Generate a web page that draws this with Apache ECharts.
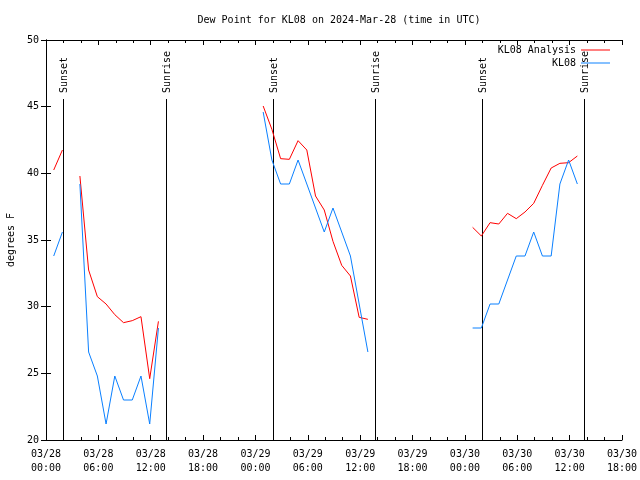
<!DOCTYPE html>
<html>
<head>
<meta charset="utf-8">
<script src="https://cdn.jsdelivr.net/npm/echarts@6/dist/echarts.min.js"></script>
<style>html,body{margin:0;padding:0;background:#fff}#c{width:640px;height:480px}</style>
</head>
<body>
<div id="c"></div>
<script>
// Hours since 2024-03-28 00:00 UTC (observations at HH:53)
const obsHours = [0,1,2,3,4,5,6,7,8,9,10,11,12,13,14,15,16,17,18,19,20,
  21,22,23,24,25,26,27,28,29,30,31,32,33,34,35,36,37,38,39,40,
  41,42,43,44,45,46,47,48,49,50,51,52,53,54,55,56,57,58,59,60];
const obsMinute = 53;

const analysis = [40.25, 41.75, null,
  39.8, 32.75, 30.75, 30.2, 29.4, 28.8, 28.95, 29.25, 24.6, 28.9,
  null, null, null, null, null, null, null, null, null, null, null,
  45.05, 43.3, 41.1, 41.05, 42.45, 41.75, 38.3, 37.25, 34.9, 33.1, 32.3, 29.2, 29.05,
  null, null, null, null, null, null, null, null, null, null, null,
  35.95, 35.3, 36.3, 36.2, 37.0, 36.6, 37.1, 37.75, 39.1, 40.4, 40.75, 40.8, 41.3];

const station = [33.8, 35.6, null,
  39.2, 26.6, 24.8, 21.2, 24.8, 23.0, 23.0, 24.8, 21.2, 28.4,
  null, null, null, null, null, null, null, null, null, null, null,
  44.6, 41.0, 39.2, 39.2, 41.0, 39.2, 37.4, 35.6, 37.4, 35.6, 33.8, 30.2, 26.6,
  null, null, null, null, null, null, null, null, null, null, null,
  28.4, 28.4, 30.2, 30.2, 32.0, 33.8, 33.8, 35.6, 33.8, 33.8, 39.2, 41.0, 39.2];

const sunHours = [1.97, 13.72, 25.96, 37.67, 49.97, 61.62];
const sunLabels = ['Sunset', 'Sunrise', 'Sunset', 'Sunrise', 'Sunset', 'Sunrise'];

const xTickLabels = ['03/28\n00:00','03/28\n06:00','03/28\n12:00','03/28\n18:00',
  '03/29\n00:00','03/29\n06:00','03/29\n12:00','03/29\n18:00',
  '03/30\n00:00','03/30\n06:00','03/30\n12:00','03/30\n18:00'];
const yTicks = [20, 25, 30, 35, 40, 45, 50];

const FONT = 'DejaVu Sans Mono';
const chart = echarts.init(document.getElementById('c'), null, {renderer: 'canvas'});
const toPairs = vals => obsHours.map((h, i) => [h + obsMinute / 60, vals[i]]);

const legendCommon = {
  right: 30, padding: 0, align: 'right', orient: 'vertical',
  icon: 'rect', itemWidth: 29, itemHeight: 1,
  textStyle: {fontFamily: FONT, fontSize: 10, color: '#000'}
};

const option = {
  animation: false,
  backgroundColor: '#fff',
  title: {
    text: 'Dew Point for KL08 on 2024-Mar-28 (time in UTC)',
    left: 334, top: 10, textAlign: 'center',
    textStyle: {fontFamily: FONT, fontSize: 10, fontWeight: 'normal', color: '#000'}
  },
  grid: {left: 46, right: 18, top: 40, bottom: 40, containLabel: false, outerBoundsMode: 'none'},
  legend: [
    Object.assign({data: ['KL08 Analysis'], top: 45}, legendCommon),
    Object.assign({data: ['KL08'], top: 58}, legendCommon)
  ],
  xAxis: [
    {type: 'value', min: 0, max: 66, interval: 6, position: 'bottom',
     axisLine: {lineStyle: {color: '#000', width: 1}},
     axisTick: {inside: true, length: 5, lineStyle: {color: '#000'}},
     minorTick: {show: true, splitNumber: 3, length: 3, lineStyle: {color: '#000'}},
     splitLine: {show: false},
     axisLabel: {margin: 7, fontFamily: FONT, fontSize: 10, color: '#000', lineHeight: 14,
       formatter: v => xTickLabels[Math.round(v / 6)] || ''}},
    {type: 'value', min: 0, max: 66, interval: 6, position: 'top',
     axisLine: {lineStyle: {color: '#000', width: 1}},
     axisTick: {inside: true, length: 5, lineStyle: {color: '#000'}},
     minorTick: {show: true, splitNumber: 3, length: 3, lineStyle: {color: '#000'}},
     splitLine: {show: false}, axisLabel: {show: false}}
  ],
  yAxis: [
    {type: 'value', min: 20, max: 50, interval: 5, position: 'left',
     name: 'degrees F', nameLocation: 'middle', nameGap: 30, nameRotate: 90,
     nameTextStyle: {fontFamily: FONT, fontSize: 10, color: '#000'},
     axisLine: {show: true, lineStyle: {color: '#000', width: 1}},
     axisTick: {show: true, inside: true, length: 5, lineStyle: {color: '#000'}},
     splitLine: {show: false},
     axisLabel: {margin: 7, fontFamily: FONT, fontSize: 10, color: '#000',
       formatter: v => yTicks.indexOf(v) >= 0 ? String(v) : ''}},
    {type: 'value', min: 20, max: 50, interval: 5, position: 'right',
     axisLine: {show: true, lineStyle: {color: '#000', width: 1}},
     axisTick: {show: true, inside: true, length: 5, lineStyle: {color: '#000'}},
     splitLine: {show: false}, axisLabel: {show: false}}
  ],
  series: [
    {type: 'custom', name: 'sun', xAxisIndex: 0, yAxisIndex: 0, silent: true,
     data: sunHours.map(h => [h, 20]),
     renderItem: function (params, api) {
       const p = api.coord([api.value(0), 20]);
       const cs = params.coordSys;
       const x = Math.round(p[0]) + 0.5;
       return {type: 'group', children: [
         {type: 'line', shape: {x1: x, y1: cs.y + 59, x2: x, y2: p[1]},
          style: {stroke: '#000', lineWidth: 1}},
         {type: 'text', x: x + 1, y: cs.y + 53, rotation: Math.PI / 2,
          style: {text: sunLabels[params.dataIndex], align: 'left', verticalAlign: 'middle',
                  font: '10px "' + FONT + '"', fill: '#000'}}
       ]};
     }},
    {type: 'line', name: 'KL08 Analysis', data: toPairs(analysis), symbol: 'none', showSymbol: false,
     connectNulls: false, color: '#ff0000', lineStyle: {color: '#ff0000', width: 1}},
    {type: 'line', name: 'KL08', data: toPairs(station), symbol: 'none', showSymbol: false,
     connectNulls: false, color: '#0a80ff', lineStyle: {color: '#0a80ff', width: 1}}
  ]
};
chart.setOption(option);
</script>
</body>
</html>
